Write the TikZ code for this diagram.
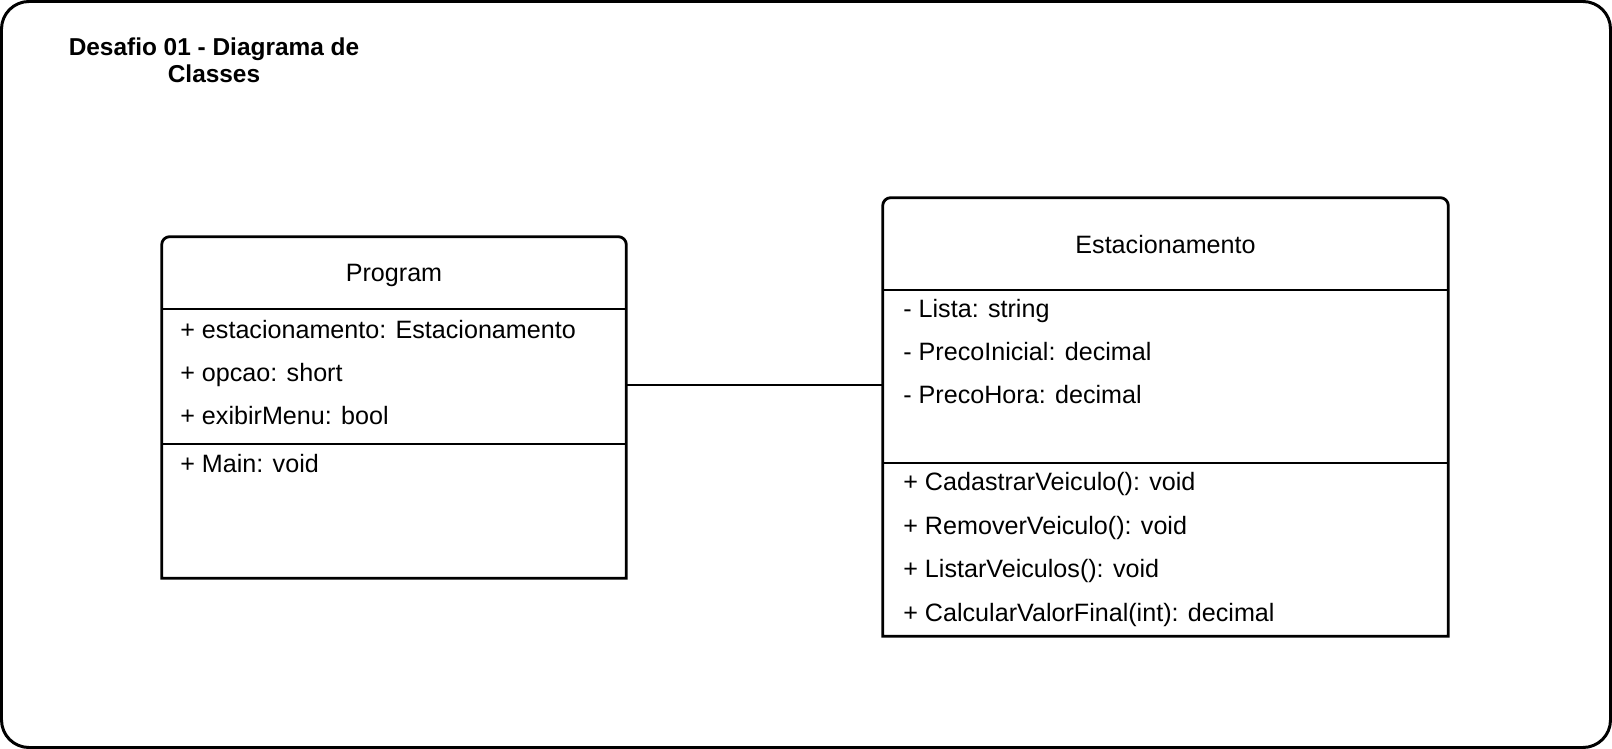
\documentclass[tikz,border=0pt]{standalone}
\usepackage{fontspec}
\setmainfont{Liberation Sans}
\usetikzlibrary{positioning}

\begin{document}
\begin{tikzpicture}[x=0.02cm, y=-0.02cm,
        box/.style={rectangle, inner sep=0pt},
        member/.style={anchor=base west, inner sep=0pt, font=\fontsize{14.3}{17}\selectfont},
        header/.style={anchor=base, inner sep=0pt, font=\fontsize{14.3}{17}\selectfont},
        outline/.style={line width=1.6pt}]
        \useasboundingbox (0, 0) rectangle (1612, 749);
        \draw [line width=1.7pt, rounded corners=0.55cm] (1.5, 1.5) rectangle (1610.5, 747.5);

        \node[align=center, inner sep=0pt, anchor=north, font=\fontsize{13.9}{15.8}\selectfont\bfseries] at (214, 37) (title) {Desafio 01 - Diagrama de\\Classes};

        % Program
        \node[box, minimum width=9.28cm, minimum height=6.82cm] at (394, 407.5) (prog) {};
        \draw [outline] (prog.south west) [rounded corners=0.16cm] -- (prog.north west) -- (prog.north east) [sharp corners] -- (prog.south east) -- cycle;
        \draw [outline] (prog.west |- 0, 309) -- (prog.east |- 0, 309);
        \draw [outline] (prog.west |- 0, 444) -- (prog.east |- 0, 444);
        \node[header] at (394, 282) (prog_name) {Program};
        \node[member] at (180, 339) (prog_a1) {+ estacionamento: Estacionamento};
        \node[member] at (180, 382) (prog_a2) {+ opcao: short};
        \node[member] at (180, 425) (prog_a3) {+ exibirMenu: bool};
        \node[member] at (180, 473) (prog_m1) {+ Main: void};

        % Estacionamento
        \node[box, minimum width=11.3cm, minimum height=8.76cm] at (1165.5, 417) (est) {};
        \draw [outline] (est.south west) [rounded corners=0.16cm] -- (est.north west) -- (est.north east) [sharp corners] -- (est.south east) -- cycle;
        \draw [outline] (est.west |- 0, 290) -- (est.east |- 0, 290);
        \draw [outline] (est.west |- 0, 463) -- (est.east |- 0, 463);
        \node[header] at (1165.5, 254) (est_name) {Estacionamento};
        \node[member] at (903, 318) (est_a1) {- Lista: string};
        \node[member] at (903, 361) (est_a2) {- PrecoInicial: decimal};
        \node[member] at (903, 404) (est_a3) {- PrecoHora: decimal};
        \node[member] at (903, 491) (est_m1) {+ CadastrarVeiculo(): void};
        \node[member] at (903, 534) (est_m2) {+ RemoverVeiculo(): void};
        \node[member] at (903, 577) (est_m3) {+ ListarVeiculos(): void};
        \node[member] at (903, 621) (est_m4) {+ CalcularValorFinal(int): decimal};

        % associacao
        \coordinate (link) at (750, 385);
        \draw [outline] (prog.east |- link) -- (est.west |- link);
    \end{tikzpicture}
\end{document}
